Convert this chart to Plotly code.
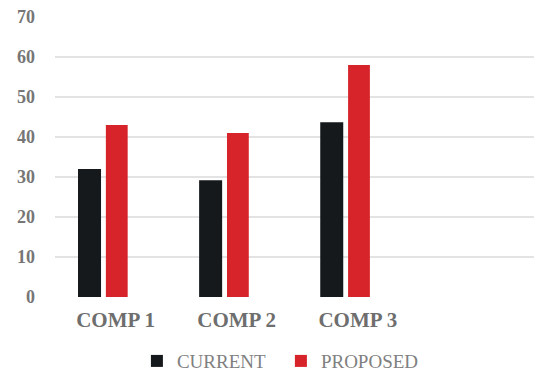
import plotly.graph_objects as go

categories = ["COMP 1", "COMP 2", "COMP 3", ""]
current = [32, 29.2, 43.7, None]
proposed = [43, 41, 58, None]
y_ticks = [0, 10, 20, 30, 40, 50, 60, 70]

serif = "Liberation Serif, Times New Roman, serif"

fig = go.Figure()
fig.add_trace(go.Bar(name="CURRENT", x=categories, y=current, marker_color="#15191c",
                     marker_line_width=0, width=0.19, offset=-0.31))
fig.add_trace(go.Bar(name="PROPOSED", x=categories, y=proposed, marker_color="#d7242a",
                     marker_line_width=0, width=0.18, offset=-0.08))

fig.update_layout(
    width=534, height=373,
    margin=dict(l=55, r=0, t=17, b=76, autoexpand=False),
    paper_bgcolor="white", plot_bgcolor="white",
    barmode="overlay",
    showlegend=True,
    legend=dict(orientation="h", x=0.171, xanchor="left",
                yref="container", y=0.032, yanchor="middle",
                font=dict(family=serif, size=19, color="#808080"),
                itemwidth=30, entrywidth=99, traceorder="normal"),
    xaxis=dict(type="category", categoryorder="array", categoryarray=categories,
               range=[-0.5, 3.455], showgrid=False, zeroline=False, showline=False,
               ticks="", ticklabelstandoff=8,
               tickfont=dict(family=serif, size=21, color="#6e6e6e", weight="bold")),
    yaxis=dict(range=[0, 70], tickvals=y_ticks, showgrid=True, gridcolor="#e3e3e3",
               gridwidth=1.5, zeroline=False, showline=False, ticks="",
               ticklabelstandoff=19,
               tickfont=dict(family=serif, size=18, color="#767676", weight="bold")),
)

fig.write_html("out.html")
